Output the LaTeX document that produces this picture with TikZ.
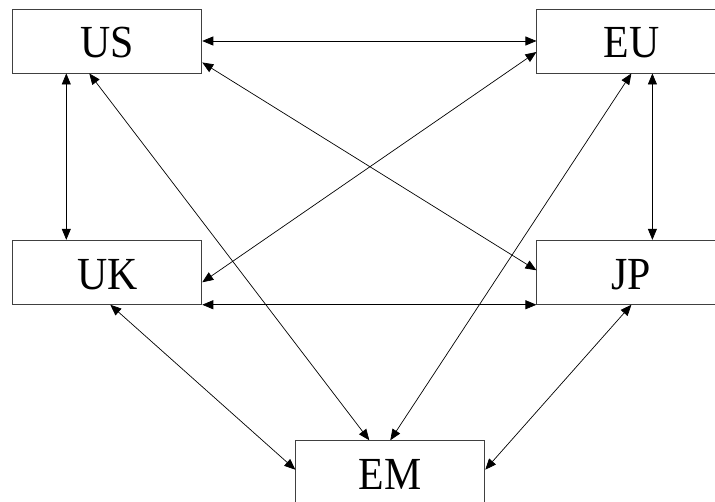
\documentclass[tikz,border=0pt]{standalone}
\usepackage{fontspec}
\setmainfont{Liberation Serif}
\usetikzlibrary{arrows.meta}
\newcommand{\boxlbl}[1]{\raisebox{-2pt}[\height][\depth]{\scalebox{1.02}[1.12]{#1}}}
\tikzset{
  market/.style={draw=black!75, line width=0.9pt, fill=white, rectangle,
    minimum width=189pt, minimum height=64pt, inner sep=0pt,
    font=\fontsize{41}{41}\selectfont},
  link/.style={{Triangle[length=11pt,width=9pt]}-{Triangle[length=11pt,width=9pt]}, line width=0.7pt, black}
}
\begin{document}
\begin{tikzpicture}[x=1pt,y=-1pt]
\clip (0,0) rectangle (715,502);
\fill[white] (0,0) rectangle (715,502);
\node[market] (US) at (107.3,41) {\boxlbl{US}};
\node[market] (EU) at (631.4,41) {\boxlbl{EU}};
\node[market] (UK) at (107.3,272.3) {\boxlbl{UK}};
\node[market] (JP) at (631.4,272.3) {\boxlbl{JP}};
\node[market] (EM) at (390.3,472.7) {\boxlbl{EM}};
\draw[link] (US.east) -- (EU.west);
\draw[link] ([yshift=11pt]US.south east) -- ([yshift=2pt]JP.west);
\draw[link] ([yshift=-11pt]EU.west) -- ([yshift=-10pt]UK.east);
\draw[link] (UK.south east) -- (JP.south west);
\draw[link] ([xshift=-41pt]US.south) -- ([xshift=-41pt]UK.north);
\draw[link] ([xshift=21pt]EU.south) -- ([xshift=21pt]JP.north);
\draw[link] ([xshift=-18pt]US.south) -- ([xshift=-21pt]EM.north);
\draw[link] (EU.south) -- (EM.north);
\draw[link] ([xshift=3pt]UK.south) -- ([yshift=3pt]EM.west);
\draw[link] (JP.south) -- ([yshift=3pt]EM.east);
\end{tikzpicture}
\end{document}
